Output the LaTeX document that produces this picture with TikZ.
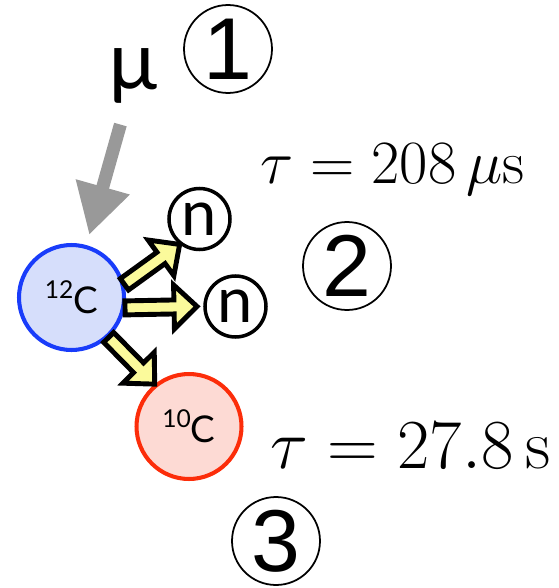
\RequirePackage{fix-cm}
\documentclass[tikz,border=0pt]{standalone}
\usepackage{fontspec}
\usepackage{xcolor}
\usepackage{tikz}
\usetikzlibrary{arrows.meta, calc}

\newfontfamily\gillfont{Lato}
\newfontfamily\stepfont{Liberation Sans}

\definecolor{muongray}{RGB}{153,153,153}
\definecolor{carbonblue}{RGB}{25,60,250}
\definecolor{carbonbluefill}{RGB}{214,222,251}
\definecolor{carbonred}{RGB}{252,45,10}
\definecolor{carbonredfill}{RGB}{253,218,212}
\definecolor{arrowyellow}{RGB}{251,250,155}

\newcommand{\isotope}[2]{{\fontsize{14}{14}\selectfont\raisebox{0.3cm}{#1}}#2}

\begin{document}
\begin{tikzpicture}[
    x=0.02cm, y=-0.02cm,
    nucleus/.style={circle, line width=2.3pt, minimum size=2.1cm, inner sep=0pt, font=\gillfont\fontsize{21}{21}\selectfont},
    neutron/.style={circle, draw=black, line width=2pt, minimum size=1.22cm, inner sep=0pt, font=\gillfont\fontsize{36}{36}\selectfont},
    stepmark/.style={circle, draw=black, line width=1pt, minimum size=1.76cm, inner sep=0pt, outer sep=0pt, font=\stepfont\fontsize{50}{50}\selectfont},
    lifetime/.style={anchor=base west, inner sep=0pt},
    beamarrow/.style={line width=7.4pt, muongray, -{Triangle[length=1cm, width=1.05cm]}, shorten <=1.0cm, shorten >=1.3cm},
    blockarrow/.style={draw=black, fill=arrowyellow, line width=2.8pt, line join=miter,
        to path={($(\tikztostart)!0.14cm!90:(\tikztotarget)$)
            -- ($(\tikztotarget)!0.46cm!(\tikztostart)!0.14cm!90:(\tikztotarget)$)
            -- ($(\tikztotarget)!0.46cm!(\tikztostart)!0.44cm!90:(\tikztotarget)$)
            -- (\tikztotarget)
            -- ($(\tikztotarget)!0.46cm!(\tikztostart)!0.44cm!-90:(\tikztotarget)$)
            -- ($(\tikztotarget)!0.46cm!(\tikztostart)!0.14cm!-90:(\tikztotarget)$)
            -- ($(\tikztostart)!0.14cm!-90:(\tikztotarget)$) -- cycle}},
]
\useasboundingbox (0,0) rectangle (558,588);

% incoming muon
\node[font=\gillfont\fontsize{46}{46}\selectfont, anchor=base, inner sep=0pt] (mu) at (134,90) {µ};
\node[stepmark] (step1) at (228,49) {1};

% capture and neutron emission
\node[nucleus, draw=carbonblue, fill=carbonbluefill] (c12) at (71.5,297.5) {\isotope{12}{C}};
\node[neutron] (n1) at (199.5,219) {n};
\node[neutron, outer sep=0.16cm] (n2) at (235.5,306.5) {n};
\node[nucleus, draw=carbonred, fill=carbonredfill] (c10) at (189,426.5) {\isotope{10}{C}};

\node[stepmark] (step2) at (347,266) {2};
\node[stepmark] (step3) at (276,541) {3};

\node[lifetime, font=\fontsize{35}{35}\selectfont] (tau1) at (260,183) {$\tau = 208\,\mu\mathrm{s}$};
\node[lifetime, font=\fontsize{40}{40}\selectfont] (tau2) at (270,468) {$\tau = 27.8\,\mathrm{s}$};

\draw[blockarrow] (c12.14) to (n1.232);
\draw[blockarrow] (c12.-11) to (n2.west);
\draw[blockarrow] (c12.-47) to (c10.129);

\draw[beamarrow] (mu.center) -- (c12.center);

\end{tikzpicture}
\end{document}
